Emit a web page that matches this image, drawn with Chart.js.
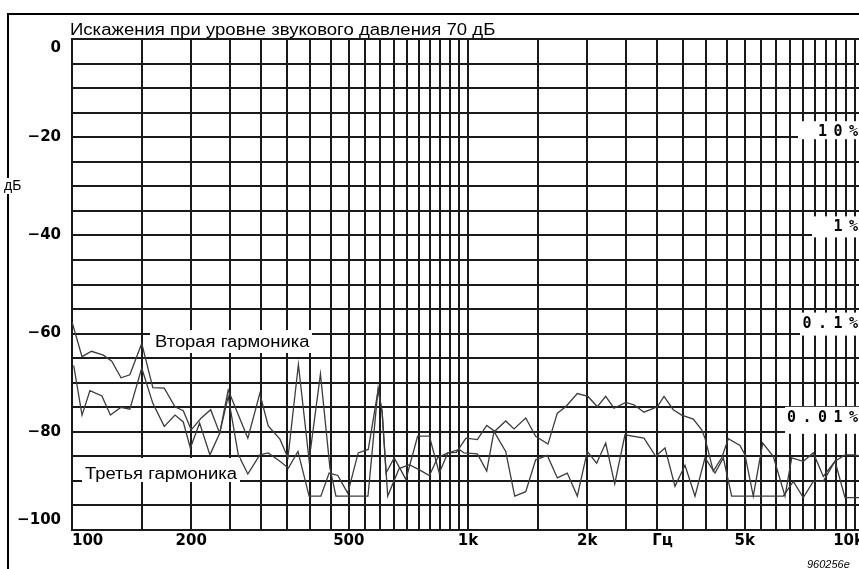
<!DOCTYPE html>
<html>
<head>
<meta charset="utf-8">
<script src="https://cdn.jsdelivr.net/npm/chart.js@4"></script>
<style>
html,body{margin:0;padding:0;overflow:hidden;background:#fff}
canvas{display:block}
</style>
</head>
<body>
<canvas id="chart" width="870" height="569"></canvas>
<script>
// Second harmonic (Hz / dB)
const freq2 = [100,106,112,120,126,133,140,150,160,171,182,191,200,212,224,236,248,278,298,313,
  335,351,373,397,424,448,464,559,593,607,627,670,711,756,799,838,889,935,988,1056,
  1115,1168,1245,1307,1399,1482,1592,1681,1765,1888,2009,2121,2227,2337,2502,2625,2782,3006,3126,3299,
  3464,3706,3892,3967,4163,4372,4543,4863,5006,5253,5549,5901,6317,6568,7026,7447,7893,8449,8955,9490,9770];
const level2 = [-57.6,-64.7,-63.6,-64.4,-65.6,-69.0,-68.4,-62.0,-71.0,-71.1,-74.9,-75.7,-79.6,-77.2,-75.5,-80.3,-71.5,-81.3,-72.2,-78.8,
  -81.5,-85.3,-66.3,-85.8,-68.2,-87.3,-93.1,-93.1,-71.1,-76,-93.1,-87.5,-86.7,-87.8,-88.9,-85.3,-84.3,-84.2,-81.3,-81.6,
  -78.7,-79.9,-77.8,-79.4,-77.2,-80.9,-82.5,-76.2,-74.9,-72.2,-72.8,-74.9,-72.8,-75.2,-74.0,-74.5,-76.0,-74.9,-72.8,-75.5,
  -76.6,-77.4,-79.6,-81.3,-88.0,-85.3,-81.4,-82.8,-84.7,-93.1,-82.3,-85.0,-93.1,-85.3,-86.0,-84.3,-89.1,-86.0,-84.7,-84.7,-85.0];

// Third harmonic (Hz / dB)
const freq3 = [101,106,111,119,125,133,140,150,160,171,182,191,199,210,223,236,248,263,278,298,
  313,335,352,372,397,425,446,469,497,528,560,593,607,621,651,697,746,799,846,889,
  951,977,1056,1115,1163,1245,1312,1399,1482,1586,1681,1781,1888,2001,2113,2227,2347,2491,2782,2978,
  3144,3332,3532,3743,3967,4205,4413,4633,6255,6629,7026,7447,7893,8449,8955,9714];
const level3 = [-66.5,-76.6,-71.6,-72.7,-76.6,-75.0,-75.4,-67.0,-74.2,-78.9,-76.6,-78.0,-83.3,-78.2,-84.7,-80.3,-72.8,-84.7,-88.6,-84.7,
  -84.3,-86.0,-87.4,-84.0,-93.1,-93.1,-88.4,-88.9,-92.5,-84.3,-83.6,-71.5,-76,-88.4,-85.3,-89.7,-80.9,-80.9,-88.4,-84.3,
  -83.6,-84.3,-84.5,-88.0,-79.9,-84.0,-93.1,-92.2,-85.7,-84.8,-89.4,-88.4,-93.1,-84.0,-86.4,-82.3,-90.6,-80.6,-81.3,-85.0,
  -83.3,-91.1,-86.8,-93.1,-85.3,-88.4,-85.3,-93.1,-93.1,-90.1,-93.4,-90.1,-90.1,-86.0,-93.4,-93.4];

// Axis labels
const xTickValues = [100,200,500,1000,2000,3100,5000,10000];
const xTickText = ["100","200","500","1k","2k","Гц","5k","10k"];
const yTickValues = [0,-20,-40,-60,-80,-100];
const pctLevels = [-20,-40,-60,-80];
const pctText = ["10%","1%","0.1%","0.01%"];

// grid: every 50 Hz below 1k, every 500 Hz above
const gridFreqs = [];
for(let f=100; f<1000; f+=50) gridFreqs.push(f);
for(let f=1000; f<=10000; f+=500) gridFreqs.push(f);

const pts = (xs,ys)=>xs.map((x,i)=>({x:x,y:ys[i]}));

function stretchText(ctx,text,x,y,sx){
  ctx.save();
  ctx.translate(x,y);
  ctx.scale(sx,1);
  ctx.fillText(text,0,0);
  ctx.restore();
}

const overlay = {
  id:"overlay",
  beforeDraw(chart){
    const ctx = chart.ctx;
    ctx.save();
    ctx.fillStyle="#fff";
    ctx.fillRect(0,0,chart.width,chart.height);
    ctx.restore();
  },
  afterDatasetsDraw(chart){
    const ctx = chart.ctx;
    const ys = chart.scales.y;
    ctx.save();
    ctx.fillStyle="#fff";
    // label boxes over the curves
    ctx.fillRect(150,330,162,23);
    ctx.fillRect(82,458,158,24);
    const pctBoxLeft = [798,812,800,785];
    const pctShift = [1,4,6,10];
    pctLevels.forEach((v,i)=>{
      const y = ys.getPixelForValue(v);
      ctx.fillRect(pctBoxLeft[i], y-pctShift[i]-15, 80, pctShift[i]+17);
    });
    ctx.fillStyle="#000";
    ctx.textBaseline="alphabetic";
    ctx.textAlign="left";
    ctx.font="16px 'Liberation Sans', Arial, sans-serif";
    stretchText(ctx,"Вторая гармоника",155,347,1.15);
    stretchText(ctx,"Третья гармоника",85,479,1.15);

    // percent labels, fixed pitch
    ctx.font="bold 15px 'DejaVu Sans Mono', 'Liberation Mono', monospace";
    pctLevels.forEach((v,i)=>{
      const base = ys.getPixelForValue(v)-pctShift[i];
      const chars = pctText[i].split("");
      chars.forEach((c,j)=>{
        ctx.fillText(c, 849-(chars.length-1-j)*15.5, base);
      });
    });
    ctx.restore();
  },
  afterDraw(chart){
    const ctx = chart.ctx;
    const xs = chart.scales.x, ys = chart.scales.y;
    const area = chart.chartArea;
    ctx.save();
    // outer frame
    ctx.strokeStyle="#000";
    ctx.lineWidth=2;
    ctx.beginPath();
    ctx.moveTo(8,chart.height+2);
    ctx.lineTo(8,14);
    ctx.lineTo(chart.width+2,14);
    ctx.stroke();

    ctx.fillStyle="#000";
    ctx.textBaseline="alphabetic";
    ctx.textAlign="left";
    ctx.font="16px 'Liberation Sans', Arial, sans-serif";
    stretchText(ctx,"Искажения при уровне звукового давления 70 дБ",70,35,1.16);

    // y labels
    ctx.font="bold 15px 'DejaVu Sans', Verdana, sans-serif";
    ctx.textAlign="right";
    ctx.textBaseline="middle";
    yTickValues.forEach(v=>{
      let y = ys.getPixelForValue(v);
      y = Math.min(Math.max(y, area.top+9), area.bottom-10);
      ctx.fillText(v===0 ? "0" : "\u2212"+Math.abs(v), 61, y);
    });

    // x labels: first and last kept inside the plot
    ctx.textBaseline="alphabetic";
    xTickValues.forEach((v,i)=>{
      const x = xs.getPixelForValue(v);
      ctx.textAlign = i===0 ? "left" : (i===xTickValues.length-1 ? "right" : "center");
      ctx.fillText(xTickText[i], x, 545);
    });

    // unit dB
    ctx.fillStyle="#fff";
    ctx.fillRect(3,178,19,16);
    ctx.fillStyle="#000";
    ctx.textAlign="left";
    ctx.textBaseline="middle";
    ctx.font="14px 'Liberation Sans', Arial, sans-serif";
    ctx.fillText("дБ",4,ys.getPixelForValue(-30));

    ctx.font="italic 11px 'Liberation Sans', Arial, sans-serif";
    ctx.textBaseline="alphabetic";
    ctx.fillText("960256e",807,568);
    ctx.restore();
  }
};

new Chart(document.getElementById("chart"),{
  type:"line",
  data:{
    datasets:[
      {label:"Вторая гармоника",data:pts(freq2,level2),borderColor:"#3c3c3c",borderWidth:1.3,pointRadius:0,tension:0,fill:false},
      {label:"Третья гармоника",data:pts(freq3,level3),borderColor:"#3c3c3c",borderWidth:1.3,pointRadius:0,tension:0,fill:false}
    ]
  },
  options:{
    responsive:false,
    animation:false,
    devicePixelRatio:1,
    layout:{padding:{left:72,top:39,right:6,bottom:39}},
    plugins:{legend:{display:false},tooltip:{enabled:false}},
    scales:{
      x:{
        type:"logarithmic",
        min:100,max:10000,
        afterBuildTicks:s=>{ s.ticks = gridFreqs.map(v=>({value:v})); },
        ticks:{display:false},
        grid:{color:"#1a1a1a",lineWidth:2,drawTicks:false},
        border:{display:true,color:"#1a1a1a",width:2}
      },
      y:{
        min:-100,max:0,
        ticks:{display:false,stepSize:5},
        grid:{color:"#1a1a1a",lineWidth:2,drawTicks:false},
        border:{display:true,color:"#1a1a1a",width:2}
      }
    }
  },
  plugins:[overlay]
});
</script>
</body>
</html>
